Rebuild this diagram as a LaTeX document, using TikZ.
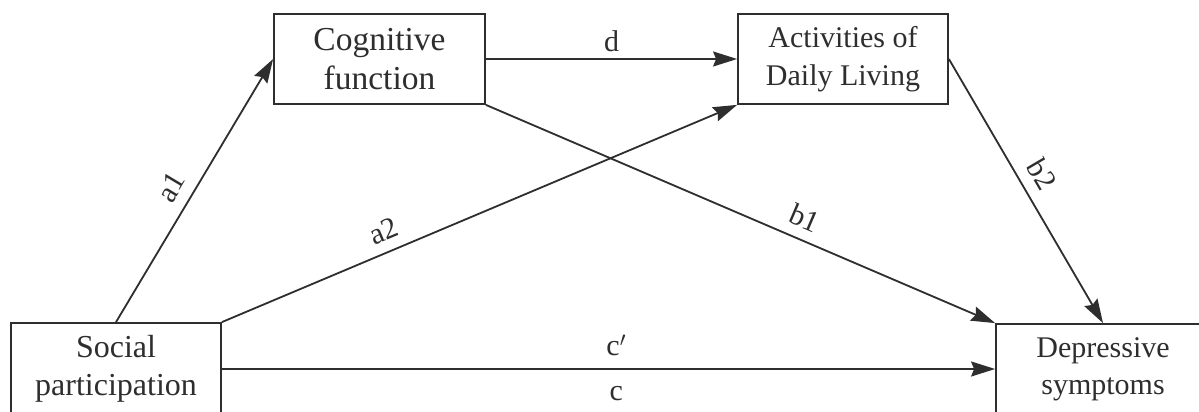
\documentclass[tikz,border=0pt]{standalone}
\usepackage{fontspec}
\setmainfont{Liberation Serif}
\usetikzlibrary{arrows.meta}
\definecolor{ink}{HTML}{2E2E2E}
\begin{document}
\begin{tikzpicture}[x=1pt,y=-1pt,
  box/.style={draw=ink, line width=1.8pt, rectangle, inner sep=0pt, align=center, text=ink},
  conn/.style={draw=ink, line width=1.8pt, -{Stealth[length=24pt,width=15pt,inset=3pt]}},
  lbl/.style={text=ink, font=\fontsize{30}{34}\selectfont, inner sep=2pt}]
\useasboundingbox (0,0) rectangle (1199,412);
\fill[white] (0,0) rectangle (1199,412);
\clip (0,0) rectangle (1199,412);
\node[box, minimum width=210pt, minimum height=92pt, font=\fontsize{32}{38}\selectfont] (soc) at (116,369) {Social\\participation};
\node[box, minimum width=214pt, minimum height=90pt, font=\fontsize{30}{37}\selectfont] (dep) at (1103,369) {Depressive\\symptoms};
\node[box, minimum width=211pt, minimum height=90pt, font=\fontsize{33.5}{39}\selectfont] (cog) at (379.5,59) {Cognitive\\function};
\node[box, minimum width=210pt, minimum height=90pt, font=\fontsize{30}{38}\selectfont] (act) at (843,59) {Activities of\\Daily Living};
\draw[conn] (soc.north) -- node[lbl, sloped, above=9pt, pos=0.47] {a1} (cog.west);
\draw[conn] (soc.north east) -- node[lbl, sloped, above=8pt, pos=0.33] {a2} (act.south west);
\draw[conn] (cog.east) -- node[lbl, above=4pt, pos=0.5] {d} (act.west);
\draw[conn] (cog.south east) -- node[lbl, sloped, above=8pt, pos=0.61] {b1} (dep.north west);
\draw[conn] (act.east) -- node[lbl, sloped, above=9pt, pos=0.48] {b2} (dep.north);
\draw[conn] (soc.east) -- node[lbl, above=10pt, pos=0.51] {c$'$} node[lbl, below=16pt, pos=0.51, inner sep=0pt] {c} (dep.west);
\end{tikzpicture}
\end{document}
